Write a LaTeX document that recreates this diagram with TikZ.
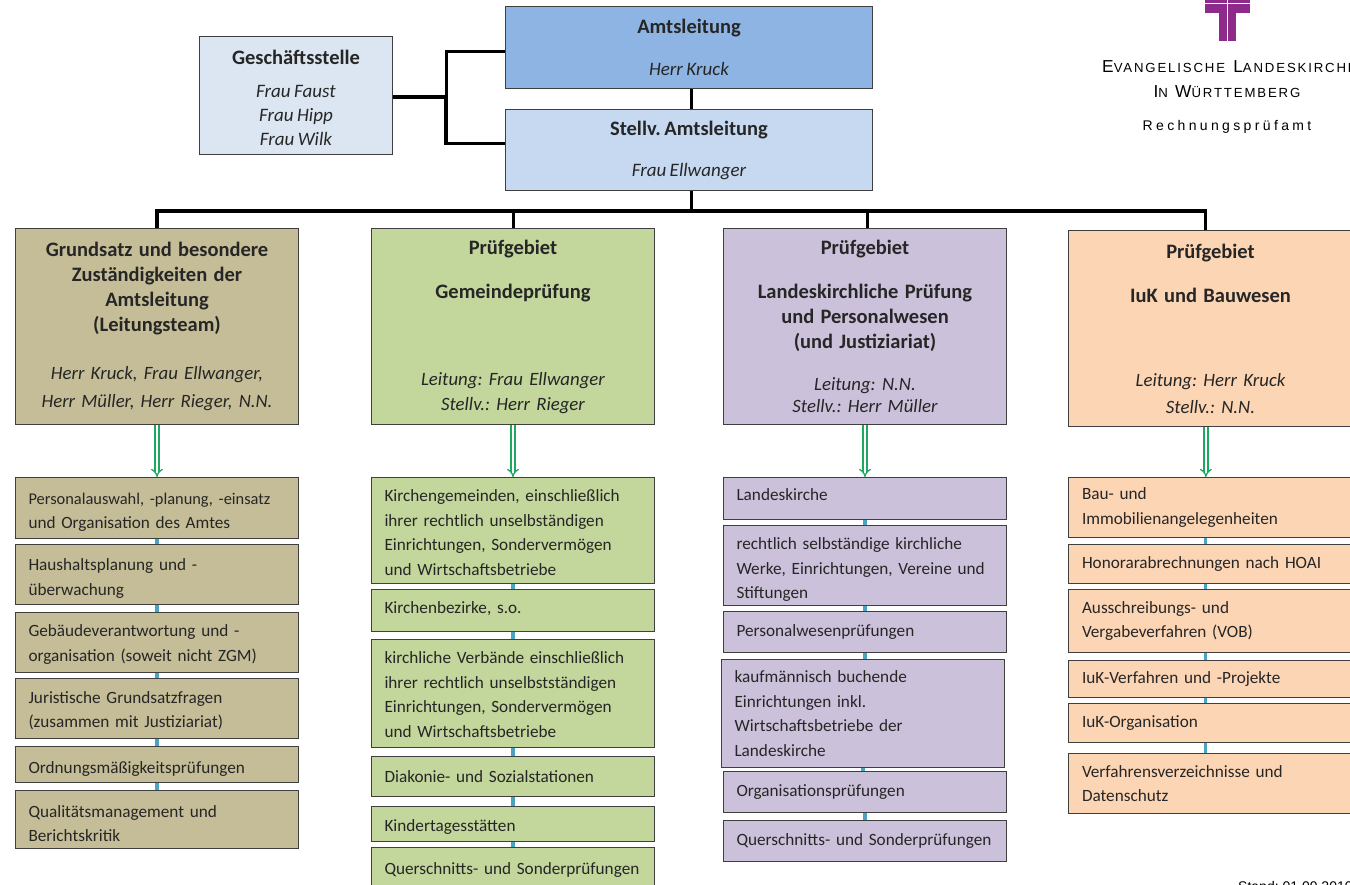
\documentclass[tikz,border=0pt]{standalone}
\usepackage{fontspec}
\setmainfont[WordSpace=0.8]{Carlito}
\newfontfamily\logofont[LetterSpace=14]{Liberation Sans}
\newfontfamily\logowide[LetterSpace=24]{Liberation Sans}
\newfontfamily\standfont{Liberation Sans}
\usetikzlibrary{arrows}
\definecolor{boxline}{HTML}{3F3F3F}
\definecolor{leitblau}{HTML}{8EB4E3}
\definecolor{stellblau}{HTML}{C6D9F1}
\definecolor{gsblau}{HTML}{DCE6F2}
\definecolor{grundfill}{HTML}{C4BD97}
\definecolor{gemfill}{HTML}{C3D69B}
\definecolor{landfill}{HTML}{CCC1DA}
\definecolor{iukfill}{HTML}{FCD5B5}
\definecolor{pfeilgruen}{HTML}{1FA862}
\definecolor{linkblau}{HTML}{4BA3C3}
\definecolor{logolila}{HTML}{8E2A8B}
\newcommand{\logocaps}[2]{{\fontsize{17.3}{22}\selectfont #1}{\fontsize{13.2}{22}\selectfont #2}}
\newcommand{\kopf}[1]{{\fontsize{20.5}{25}\selectfont\upshape\bfseries #1}}
\newcommand{\tiefer}[1]{\rule{0pt}{\dimexpr12pt+2\dimexpr #1pt\relax\relax}}
\newcommand{\hoeher}[1]{\rule[-\dimexpr4pt+2\dimexpr #1pt\relax\relax]{0pt}{0pt}}
\tikzset{
  topbox/.style={draw=boxline,line width=1pt,inner sep=0pt,align=center,anchor=north west,text=black!85,font=\fontsize{19}{24}\selectfont\itshape},
  headbox/.style={draw=boxline,line width=1pt,inner sep=0pt,align=center,anchor=north west,minimum width=283pt,minimum height=196pt,text width=283pt,font=\fontsize{18.8}{25}\selectfont\itshape,text=black!85},
  subbox/.style={draw=boxline,line width=1pt,inner xsep=13pt,inner ysep=0pt,align=left,anchor=north west,minimum width=283pt,text width=257pt,font=\fontsize{17.2}{24.5}\selectfont,text=black!85},
  trunk/.style={black,line width=3pt},
  trunkbold/.style={black,line width=3.6pt},
  greenarrow/.style={draw=pfeilgruen,line width=1.3pt,double=white,double distance=2.7pt,-implies},
  sublink/.style={linkblau,line width=3.5pt}
}
\begin{document}
\frenchspacing
\begin{tikzpicture}[x=1pt,y=-1pt]
  \useasboundingbox (0,0) rectangle (1350,885);
  \coordinate (bus) at (691,211);
  \coordinate (gsjoin) at (446,97);
  % top row
  \node[topbox,fill=leitblau,minimum width=367pt,minimum height=82pt] (amt) at (505,6)
    {\kopf{Amtsleitung}\\[18pt]Herr Kruck};
  \node[topbox,fill=stellblau,minimum width=367pt,minimum height=81pt] (stellv) at (505,109)
    {\kopf{Stellv. Amtsleitung}\\[17pt]Frau Ellwanger};
  \node[topbox,fill=gsblau,minimum width=193pt,minimum height=118pt] (gs) at (199,36)
    {\tiefer{3.5}\kopf{Geschäftsstelle}\\[9pt]Frau Faust\\Frau Hipp\\Frau Wilk};
  % logo
  \fill[logolila] (1205,0) rectangle (1250,13);
  \fill[logolila] (1219,0) rectangle (1236,41);
  \draw[white,line width=0.7pt] (1205,3.5) -- (1250,3.5);
  \draw[white,line width=0.7pt] (1227.5,0) -- (1227.5,41);
  \node[anchor=west,inner sep=0pt,font=\logofont] (logoa) at (1102,67) {\logocaps{E}{VANGELISCHE}\hspace{4pt} \logocaps{L}{ANDESKIRCHE}};
  \node[inner sep=0pt,font=\logofont] (logob) at (1227,92) {\logocaps{I}{N}\hspace{3pt} \logocaps{W}{ÜRTTEMBERG}};
  \node[inner sep=0pt,font=\logowide\fontsize{14}{16}\selectfont] (logoc) at (1227,127) {Rechnungsprüfamt};
  % departments
  \node[headbox,fill=grundfill] (grund) at (15,228)
    {\kopf{Grundsatz und besondere}\\\kopf{Zuständigkeiten der}\\\kopf{Amtsleitung}\\\kopf{(Leitungsteam)}\\[23pt]Herr Kruck, Frau Ellwanger,\\[3pt]Herr Müller, Herr Rieger, N.N.};
  \node[headbox,fill=gemfill] (gem) at (371,228)
    {\kopf{Prüfgebiet}\\[19pt]\kopf{Gemeindeprüfung}\\[62pt]Leitung: Frau Ellwanger\\Stellv.: Herr Rieger};
  \node[headbox,fill=landfill] (land) at (723,228)
    {\kopf{Prüfgebiet}\\[19pt]\kopf{Landeskirchliche Prüfung}\\\kopf{und Personalwesen}\\\kopf{(und Justiziariat)}\\[17pt]Leitung: N.N.\\[-3pt]Stellv.: Herr Müller};
  \node[headbox,fill=iukfill,minimum width=284pt,text width=284pt] (iuk) at (1068,230)
    {\kopf{Prüfgebiet}\\[19pt]\kopf{IuK und Bauwesen}\\[59pt]Leitung: Herr Kruck\\[2pt]Stellv.: N.N.};
  % column 1
  \node[subbox,fill=grundfill,minimum height=61pt] (gsa) at (15,477) {\tiefer{4}{\fontsize{16.4}{24.5}\selectfont Personalauswahl, -planung, -einsatz}\\und Organisation des Amtes};
  \node[subbox,fill=grundfill,minimum height=60pt] (gsb) at (15,544) {\tiefer{4}Haushaltsplanung und -\\überwachung};
  \node[subbox,fill=grundfill,minimum height=60pt] (gsc) at (15,612) {\tiefer{2}Gebäudeverantwortung und -\\organisation (soweit nicht ZGM)};
  \node[subbox,fill=grundfill,minimum height=60pt] (gsd) at (15,678) {\tiefer{2}Juristische Grundsatzfragen\\(zusammen mit Justiziariat)};
  \node[subbox,fill=grundfill,minimum height=36pt] (gse) at (15,746) {\tiefer{4}Ordnungsmäßigkeitsprüfungen};
  \node[subbox,fill=grundfill,minimum height=58pt] (gsf) at (15,790) {\tiefer{4}Qualitätsmanagement und\\Berichtskritik};
  % column 2
  \node[subbox,fill=gemfill,minimum height=106pt] (gma) at (371,477) {\tiefer{2}Kirchengemeinden, einschließlich\\ihrer rechtlich unselbständigen\\Einrichtungen, Sondervermögen\\und Wirtschaftsbetriebe};
  \node[subbox,fill=gemfill,minimum height=42pt] (gmb) at (371,589) {Kirchenbezirke, s.o.\hoeher{1}};
  \node[subbox,fill=gemfill,minimum height=108pt] (gmc) at (371,639) {\tiefer{1}kirchliche Verbände einschließlich\\ihrer rechtlich unselbstständigen\\Einrichtungen, Sondervermögen\\und Wirtschaftsbetriebe};
  \node[subbox,fill=gemfill,minimum height=40pt] (gmd) at (371,756) {Diakonie- und Sozialstationen};
  \node[subbox,fill=gemfill,minimum height=35pt] (gme) at (371,806) {\tiefer{3}Kindertagesstätten};
  \node[subbox,fill=gemfill,minimum height=42pt] (gmf) at (371,847) {\tiefer{1}Querschnitts- und Sonderprüfungen};
  % column 3
  \node[subbox,fill=landfill,minimum height=42pt,inner xsep=11.5pt] (lka) at (723,477) {Landeskirche\hoeher{2}};
  \node[subbox,fill=landfill,minimum height=80pt,inner xsep=11.5pt] (lkb) at (723,525) {\tiefer{4}rechtlich selbständige kirchliche\\Werke, Einrichtungen, Vereine und\\Stiftungen};
  \node[subbox,fill=landfill,minimum height=41pt,inner xsep=11.5pt] (lkc) at (723,611) {Personalwesenprüfungen};
  \node[subbox,fill=landfill,minimum height=108pt] (lkd) at (721,659) {kaufmännisch buchende\\Einrichtungen inkl.\\Wirtschaftsbetriebe der\\Landeskirche};
  \node[subbox,fill=landfill,minimum height=41pt,inner xsep=11.5pt] (lke) at (723,771) {Organisationsprüfungen};
  \node[subbox,fill=landfill,minimum height=41pt,inner xsep=11.5pt] (lkf) at (723,820) {Querschnitts- und Sonderprüfungen};
  % column 4
  \node[subbox,fill=iukfill,minimum height=60pt,minimum width=284pt] (ika) at (1068,477) {Bau- und\\Immobilienangelegenheiten};
  \node[subbox,fill=iukfill,minimum height=39pt,minimum width=284pt] (ikb) at (1068,544) {Honorarabrechnungen nach HOAI};
  \node[subbox,fill=iukfill,minimum height=63pt,minimum width=284pt] (ikc) at (1068,589) {Ausschreibungs- und\\Vergabeverfahren (VOB)};
  \node[subbox,fill=iukfill,minimum height=37pt,minimum width=284pt] (ikd) at (1068,660) {IuK-Verfahren und -Projekte};
  \node[subbox,fill=iukfill,minimum height=39pt,minimum width=284pt] (ike) at (1068,703) {IuK-Organisation};
  \node[subbox,fill=iukfill,minimum height=60pt,minimum width=284pt] (ikf) at (1068,753) {Verfahrensverzeichnisse und\\Datenschutz};
  \node[anchor=north west,inner sep=0pt,font=\standfont\fontsize{14}{16}\selectfont] (stand) at (1238,881.5) {Stand: 01.09.2010};
  % black lines
  \draw[trunk] (amt.south) ++(2,0) -- ([xshift=2pt]stellv.north);
  \draw[trunk] ([xshift=2pt]stellv.south) -- (bus);
  \draw[trunkbold] (grund.north) |- (bus) -| ([xshift=-5pt]iuk.north);
  \draw[trunk] (gem.north) -- (gem.north |- bus);
  \draw[trunk] ([xshift=2pt]land.north) -- ([xshift=2pt]land.north |- bus);
  \draw[trunkbold] (gs.east |- gsjoin) -- (gsjoin);
  \draw[trunk] (gsjoin) |- ([yshift=-4pt]amt.west);
  \draw[trunkbold] (gsjoin) |- ([yshift=6.5pt]stellv.west);
  % green arrows
  \draw[greenarrow] (grund.south) -- (grund.south |- gsa.north);
  \draw[greenarrow] (gem.south) -- (gem.south |- gma.north);
  \draw[greenarrow] (land.south) -- (land.south |- lka.north);
  \draw[greenarrow] ([xshift=-4.6pt]iuk.south) -- ([xshift=-4.6pt]iuk.south |- ika.north);
  % short links
  \foreach \upper/\lower in {gsa/gsb,gsb/gsc,gsc/gsd,gsd/gse,gse/gsf,gma/gmb,gmb/gmc,gmc/gmd,gmd/gme,gme/gmf,lka/lkb,lkb/lkc,lkc/lkd,lkd/lke,lke/lkf}
    \draw[sublink] (\upper.south) -- (\upper.south |- \lower.north);
  \foreach \upper/\lower in {ika/ikb,ikb/ikc,ikc/ikd,ikd/ike,ike/ikf}
    \draw[sublink] ([xshift=-5pt]\upper.south) -- ([xshift=-5pt]\upper.south |- \lower.north);
\end{tikzpicture}
\end{document}
